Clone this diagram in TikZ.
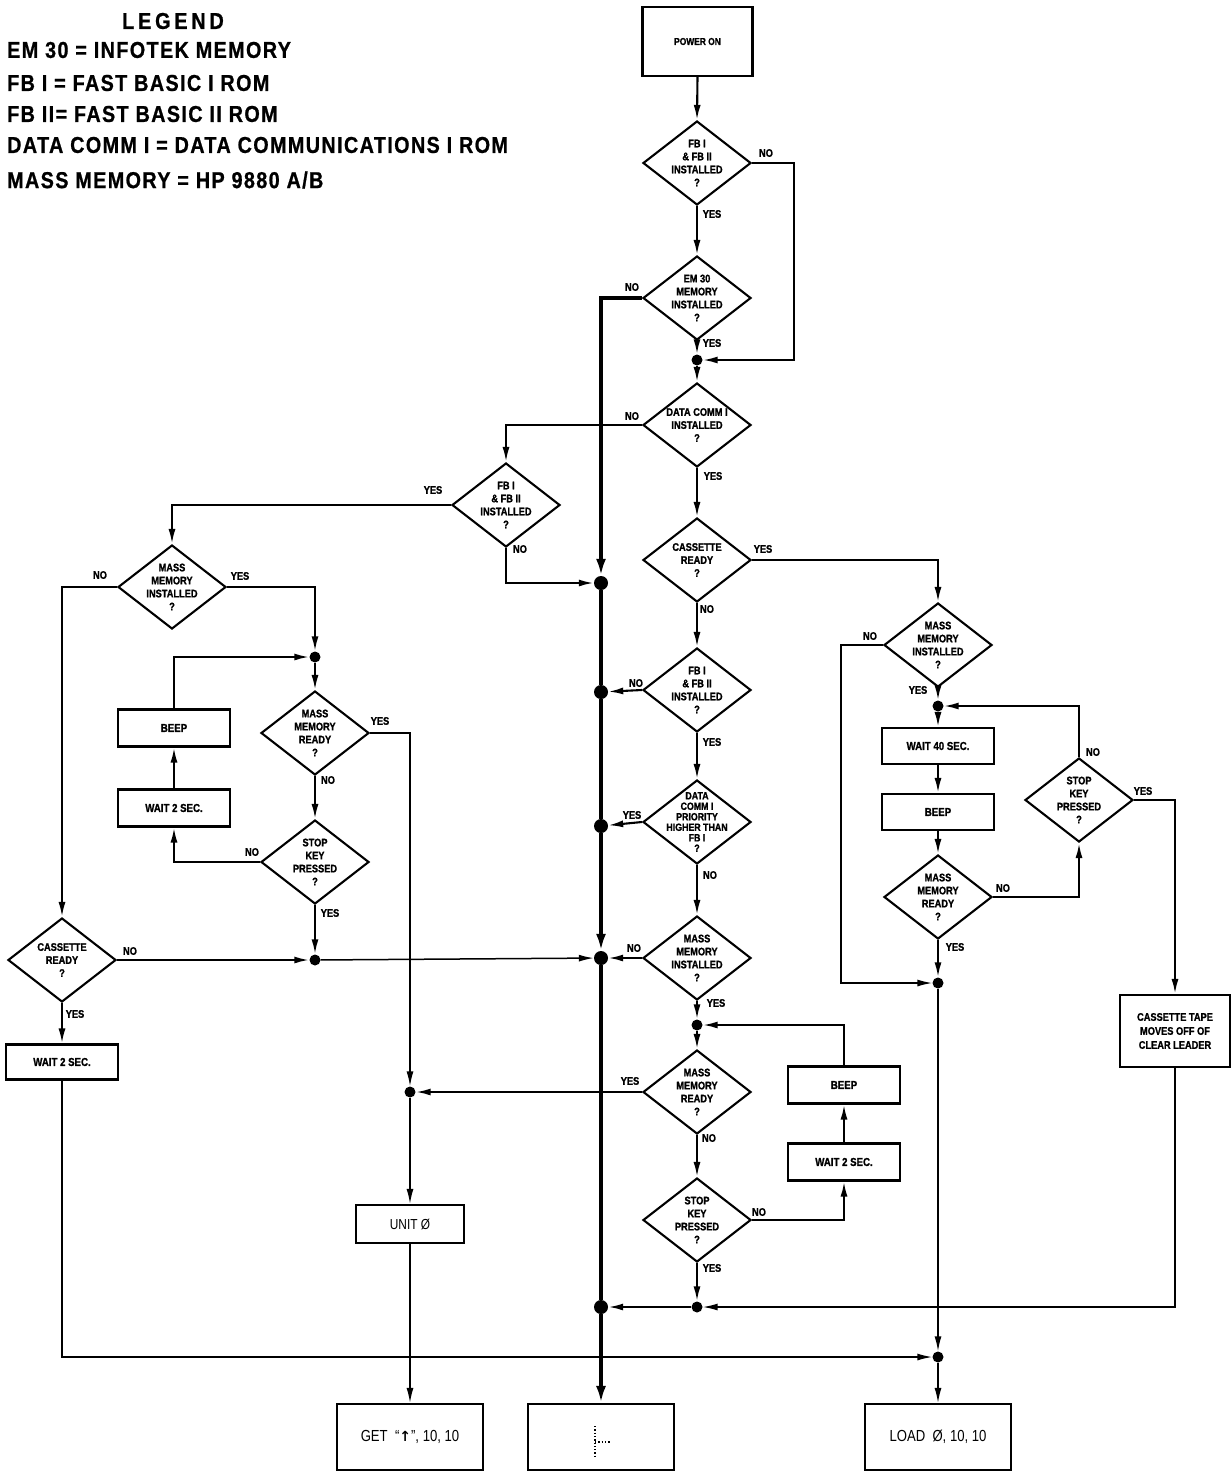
\documentclass[tikz,border=0pt]{standalone}
\usepackage{fontspec}
\setmainfont{Liberation Sans}[FakeStretch=0.82]
\newfontfamily\hvy{Liberation Sans Bold}[FakeStretch=0.84, FakeBold=1.2]
\newfontfamily\legfont{Liberation Sans Bold}[FakeStretch=0.86, LetterSpace=6, FakeBold=0.8]
\newfontfamily\symfont{DejaVu Sans Bold}
\usetikzlibrary{shapes.geometric,arrows.meta}
\begin{document}
\begin{tikzpicture}[x=1pt,y=-1pt,
  ln/.style={line width=2.1pt},
  thn/.style={line width=1.5pt},
  bus/.style={line width=4.5pt},
  arr/.style={-{Latex[length=15pt,width=7pt]}},
  arrb/.style={-{Latex[length=17pt,width=10pt]}},
  dia/.style={diamond, draw, line width=2.1pt, minimum width=108pt, minimum height=84pt, inner sep=0pt},
  dtext/.style={align=center, font=\fontsize{11}{13}\selectfont\hvy, inner sep=0pt},
  box/.style={draw, line width=2.1pt, minimum width=112pt, minimum height=37pt, inner sep=0pt, font=\fontsize{11.5}{13}\selectfont\hvy, align=center},
  bigbox/.style={draw, line width=2.1pt, minimum width=146pt, minimum height=66pt, inner sep=0pt, font=\fontsize{16}{18}\selectfont},
  dot/.style={circle, fill, inner sep=0pt, minimum size=11pt},
  bdot/.style={circle, fill, inner sep=0pt, minimum size=14pt},
  yn/.style={font=\fontsize{11}{12}\selectfont\hvy, inner sep=0pt},
  leg/.style={font=\fontsize{23}{26}\selectfont\legfont, inner sep=0pt, anchor=west}
]
\useasboundingbox (0,0) rectangle (1231,1473);

% legend
\node[leg, anchor=center] (lg0) at (173,21) {L\,E\,G\,E\,N\,D};
\node[leg] (lg1) at (7,50) {EM 30 = INFOTEK MEMORY};
\node[leg] (lg2) at (7,83) {FB I = FAST BASIC I ROM};
\node[leg] (lg3) at (7,114) {FB II= FAST BASIC II ROM};
\node[leg] (lg4) at (7,145) {DATA COMM I = DATA COMMUNICATIONS I ROM};
\node[leg] (lg5) at (7,180) {MASS MEMORY = HP 9880 A/B};

% main column
\node[box, minimum width=110pt, minimum height=69pt, font=\fontsize{10}{12}\selectfont\hvy] (pwr) at (697.5,41.5) {POWER ON};
\node[dia, label={[dtext]center:{FB I\\\& FB II\\INSTALLED\\?}}] (d1) at (697,163) {};
\node[dia, label={[dtext]center:{EM 30\\MEMORY\\INSTALLED\\?}}] (d2) at (697,298) {};
\node[dot] (j1) at (697,360) {};
\node[dia, label={[dtext]center:{DATA COMM I\\INSTALLED\\?}}] (d3) at (697,425) {};
\node[dia, label={[dtext]center:{CASSETTE\\READY\\?}}] (d4) at (697,560) {};
\node[dia, label={[dtext]center:{FB I\\\& FB II\\INSTALLED\\?}}] (d5) at (697,690) {};
\node[dia, label={[dtext, font=\fontsize{10.5}{10.5}\selectfont\hvy]center:{DATA\\COMM I\\PRIORITY\\HIGHER THAN\\FB I\\?}}] (d6) at (697,822) {};
\node[dia, label={[dtext]center:{MASS\\MEMORY\\INSTALLED\\?}}] (d7) at (697,958) {};
\node[dot] (j5) at (697,1025) {};
\node[dia, label={[dtext]center:{MASS\\MEMORY\\READY\\?}}] (d8) at (697,1092) {};
\node[dia, label={[dtext]center:{STOP\\KEY\\PRESSED\\?}}] (d9) at (697,1220) {};
\node[dot] (j6) at (697,1307) {};
\node[box] (beep2) at (844,1085) {BEEP};
\node[box] (wait2) at (844,1162) {WAIT 2 SEC.};

% bus dots
\node[bdot] (b1) at (601,583) {};
\node[bdot] (b2) at (601,692) {};
\node[bdot] (b3) at (601,826) {};
\node[bdot] (b4) at (601,958) {};
\node[bdot] (b5) at (601,1307) {};

% left part
\node[dia, label={[dtext]center:{FB I\\\& FB II\\INSTALLED\\?}}] (d10) at (506,505) {};
\node[dia, label={[dtext]center:{MASS\\MEMORY\\INSTALLED\\?}}] (d11) at (172,587) {};
\node[dot] (j2) at (315,657) {};
\node[box] (beep1) at (174,728) {BEEP};
\node[box] (wait1) at (174,808) {WAIT 2 SEC.};
\node[dia, label={[dtext]center:{MASS\\MEMORY\\READY\\?}}] (d13) at (315,733) {};
\node[dia, label={[dtext]center:{STOP\\KEY\\PRESSED\\?}}] (d14) at (315,862) {};
\node[dot] (j3) at (315,960) {};
\node[dia, label={[dtext]center:{CASSETTE\\READY\\?}}] (d12) at (62,960) {};
\node[box, minimum height=35pt] (wait3) at (62,1062) {WAIT 2 SEC.};
\node[dot] (j4) at (410,1092) {};
\node[box, minimum width=108pt, minimum height=38pt, font=\fontsize{14.5}{16}\selectfont] (unit) at (410,1224) {UNIT Ø};

% right part
\node[dia, label={[dtext]center:{MASS\\MEMORY\\INSTALLED\\?}}] (d15) at (938,645) {};
\node[dot] (j7) at (938,706) {};
\node[box, minimum height=36pt] (wait40) at (938,746) {WAIT 40 SEC.};
\node[box, minimum height=36pt] (beep3) at (938,812) {BEEP};
\node[dia, label={[dtext]center:{MASS\\MEMORY\\READY\\?}}] (d16) at (938,897) {};
\node[dot] (j8) at (938,983) {};
\node[dia, label={[dtext]center:{STOP\\KEY\\PRESSED\\?}}] (d17) at (1079,800) {};
\node[box, minimum width=110pt, minimum height=72pt, font=\fontsize{11}{14}\selectfont\hvy] (tape) at (1175,1031) {CASSETTE TAPE\\MOVES OFF OF\\CLEAR LEADER};
\node[dot] (j9) at (938,1357) {};

% bottom boxes
\node[bigbox] (get) at (410,1437) {GET \ “{\symfont\fontsize{14}{16}\selectfont ↑}”, 10, 10};
\node[bigbox] (mid) at (601,1437) {};
\node[bigbox] (load) at (938,1437) {LOAD \ Ø, 10, 10};
\draw[dotted, line width=1.3pt] (595,1426) -- (595,1456);
\draw[dotted, line width=1.3pt] (595,1442) -- (611,1442);

% ---- connectors: main column
\draw[ln,arr] (pwr.south) -- (d1.north);
\draw[ln,arr] (d1.south) -- (d2.north);
\draw[ln,arr] (d1.east) -- ++(42,0) |- (j1);
\draw[ln,arr] (d2.south) -- (j1);
\draw[ln,arr] (j1) -- (d3.north);
\draw[ln,arr] (d3.south) -- (d4.north);
\draw[ln,arr] (d4.south) -- (d5.north);
\draw[ln,arr] (d5.south) -- (d6.north);
\draw[ln,arr] (d6.south) -- (d7.north);
\draw[ln,arr] (d7.south) -- (j5);
\draw[ln,arr] (j5) -- (d8.north);
\draw[ln,arr] (d8.south) -- (d9.north);
\draw[ln,arr] (d9.south) -- (j6);
\draw[ln,arr] (j6) -- (b5);
\draw[ln,arr] (d9.east) -| (wait2.south);
\draw[ln,arr] (wait2.north) -- (beep2.south);
\draw[ln,arr] (beep2.north) |- (j5);
\draw[ln,arr] (d5.west) -- (b2);
\draw[ln,arr] (d6.west) -- (b3);
\draw[ln,arr] (d7.west) -- (b4);

% bus
\draw[bus,arrb] (d2.west) -| (b1);
\draw[bus] (b1) -- (b2) -- (b3);
\draw[bus,arrb] (b3) -- (b4);
\draw[bus] (b4) -- (b5);
\draw[bus,arrb] (b5) -- (mid.north);

% left
\draw[ln,arr] (d3.west) -| (d10.north);
\draw[ln,arr] (d10.south) |- (b1);
\draw[ln,arr] (d10.west) -| (d11.north);
\draw[ln,arr] (d11.east) -| (j2);
\draw[ln,arr] (j2) -- (d13.north);
\draw[ln,arr] (d13.south) -- (d14.north);
\draw[ln,arr] (d14.south) -- (j3);
\draw[ln,arr] (d14.west) -| (wait1.south);
\draw[ln,arr] (wait1.north) -- (beep1.south);
\draw[ln,arr] (beep1.north) |- (j2);
\draw[ln,arr] (d11.west) -| (d12.north);
\draw[ln,arr] (d12.east) -- (j3);
\draw[thn,arr] (j3) -- (b4);
\draw[ln,arr] (d12.south) -- (wait3.north);
\draw[thn,arr] (wait3.south) |- (j9);
\draw[thn,arr] (d13.east) -| (j4);
\draw[ln,arr] (d8.west) -- (j4);
\draw[thn,arr] (j4) -- (unit.north);
\draw[thn,arr] (unit.south) -- (get.north);

% right
\draw[ln,arr] (d4.east) -| (d15.north);
\draw[ln,arr] (d15.south) -- (j7);
\draw[ln,arr] (j7) -- (wait40.north);
\draw[ln,arr] (wait40.south) -- (beep3.north);
\draw[ln,arr] (beep3.south) -- (d16.north);
\draw[ln,arr] (d16.south) -- (j8);
\draw[thn,arr] (d15.west) -- ++(-42,0) |- (j8);
\draw[ln,arr] (d16.east) -| (d17.south);
\draw[ln,arr] (d17.north) |- (j7);
\draw[ln,arr] (d17.east) -| (tape.north);
\draw[thn,arr] (tape.south) |- (j6);
\draw[thn,arr] (j8) -- (j9);
\draw[thn,arr] (j9) -- (load.north);

% YES / NO labels
\node[yn] (y1) at (766,153) {NO};
\node[yn] (y2) at (712,214) {YES};
\node[yn] (y3) at (632,287) {NO};
\node[yn] (y4) at (712,343) {YES};
\node[yn] (y5) at (632,416) {NO};
\node[yn] (y6) at (713,476) {YES};
\node[yn] (y7) at (763,549) {YES};
\node[yn] (y8) at (707,609) {NO};
\node[yn] (y9) at (636,683) {NO};
\node[yn] (y10) at (712,742) {YES};
\node[yn] (y11) at (632,815) {YES};
\node[yn] (y12) at (710,875) {NO};
\node[yn] (y13) at (634,948) {NO};
\node[yn] (y14) at (716,1003) {YES};
\node[yn] (y15) at (630,1081) {YES};
\node[yn] (y16) at (709,1138) {NO};
\node[yn] (y17) at (759,1212) {NO};
\node[yn] (y18) at (712,1268) {YES};
\node[yn] (y19) at (433,490) {YES};
\node[yn] (y20) at (520,549) {NO};
\node[yn] (y21) at (100,575) {NO};
\node[yn] (y22) at (240,576) {YES};
\node[yn] (y23) at (380,721) {YES};
\node[yn] (y24) at (328,780) {NO};
\node[yn] (y25) at (252,852) {NO};
\node[yn] (y26) at (330,913) {YES};
\node[yn] (y27) at (130,951) {NO};
\node[yn] (y28) at (75,1014) {YES};
\node[yn] (y29) at (870,636) {NO};
\node[yn] (y30) at (918,690) {YES};
\node[yn] (y31) at (1003,888) {NO};
\node[yn] (y32) at (955,947) {YES};
\node[yn] (y33) at (1093,752) {NO};
\node[yn] (y34) at (1143,791) {YES};
\end{tikzpicture}
\end{document}
